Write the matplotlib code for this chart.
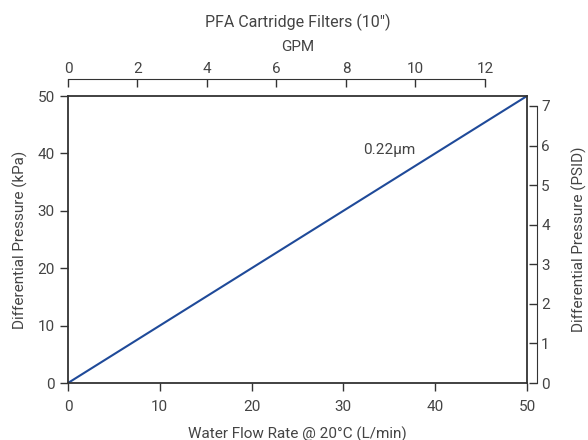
import matplotlib.pyplot as plt

# water flow (L/min) vs differential pressure (kPa)
flow_lpm = [0, 50]
dp_kpa = [0, 50]
series_label = "0.22µm"

x_ticks = [0, 10, 20, 30, 40, 50]
y_ticks = [0, 10, 20, 30, 40, 50]
gpm_ticks = [0, 2, 4, 6, 8, 10, 12]
psid_ticks = [0, 1, 2, 3, 4, 5, 6, 7]

LPM_PER_GPM = 3.78541
KPA_PER_PSI = 6.89476

TEXT = "#444444"
SPINE = "#333333"
LINE = "#1f4a99"

plt.rcParams['font.family'] = ['Roboto', 'DejaVu Sans']
plt.rcParams['font.size'] = 11

fig = plt.figure(figsize=(5.88, 4.40), dpi=100)
ax = fig.add_axes([0.1156, 0.1295, 0.7806, 0.6523])

ax.plot(flow_lpm, dp_kpa, color=LINE, lw=1.5)
ax.text(35, 40.6, series_label, color=TEXT, ha='center', va='center', fontsize=11)

ax.set_xlim(0, 50)
ax.set_ylim(0, 50)
ax.set_xticks(x_ticks)
ax.set_yticks(y_ticks)
for s in ax.spines.values():
    s.set_color(SPINE)
    s.set_linewidth(1.3)
ax.tick_params(colors=SPINE, labelcolor=TEXT, length=6, width=1, labelsize=11)
ax.tick_params(axis='x', pad=6)
ax.set_xlabel("Water Flow Rate @ 20°C (L/min)", color=TEXT, labelpad=9)
ax.set_ylabel("Differential Pressure (kPa)", color=TEXT, labelpad=7)

# top axis: GPM
axt = ax.twiny()
axt.set_xlim(0, 50 / LPM_PER_GPM)
axt.set_xticks(gpm_ticks)
for name, s in axt.spines.items():
    s.set_visible(name == 'top')
axt.spines['top'].set_position(('outward', 12.5))
axt.spines['top'].set_bounds(0, 12)
axt.spines['top'].set_color(SPINE)
axt.tick_params(axis='x', direction='in', colors=SPINE, labelcolor=TEXT, length=6, width=1, labelsize=11, pad=2)
axt.set_xlabel("GPM", color=TEXT, labelpad=8)
axt.set_title("PFA Cartridge Filters (10\u2033)", color=TEXT, fontsize=11.5, pad=9)

# right axis: PSID
axr = ax.twinx()
axr.set_ylim(0, 50 / KPA_PER_PSI)
axr.set_yticks(psid_ticks)
for name, s in axr.spines.items():
    s.set_visible(name == 'right')
axr.spines['right'].set_position(('outward', 7.2))
axr.spines['right'].set_bounds(0, 7)
axr.spines['right'].set_color(SPINE)
axr.tick_params(axis='y', direction='in', colors=SPINE, labelcolor=TEXT, length=6, width=1, labelsize=11, pad=3)
axr.set_ylabel("Differential Pressure (PSID)", color=TEXT, labelpad=16)

fig.savefig("out.png", dpi=100)
